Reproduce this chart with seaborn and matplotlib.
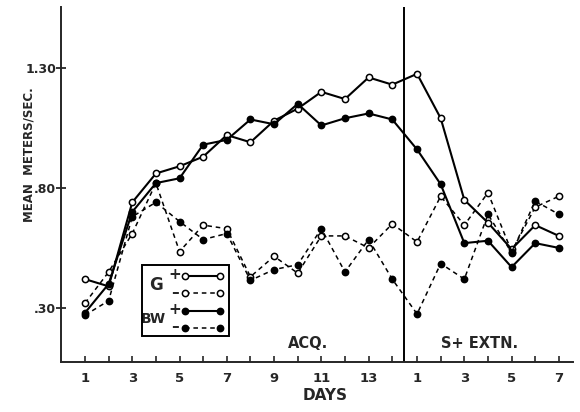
import numpy as np
import pandas as pd
import matplotlib
matplotlib.use("Agg")
import matplotlib.pyplot as plt
from matplotlib.patches import Rectangle
import seaborn as sns

# ==========================================================
# data
# ==========================================================

acq_days = list(range(1, 15))
ext_days = list(range(1, 8))

g_plus_acq = [0.42, 0.39, 0.74, 0.86, 0.89, 0.93, 1.02, 0.99, 1.08, 1.13, 1.20, 1.17, 1.26, 1.23]
g_plus_ext = [1.275, 1.09, 0.75, 0.655, 0.545, 0.645, 0.60]

g_minus_acq = [0.32, 0.45, 0.61, 0.82, 0.535, 0.645, 0.63, 0.43, 0.515, 0.445, 0.60, 0.60, 0.55, 0.65]
g_minus_ext = [0.575, 0.765, 0.645, 0.78, 0.535, 0.72, 0.765]

bw_plus_acq = [0.28, 0.40, 0.70, 0.82, 0.84, 0.98, 1.00, 1.085, 1.065, 1.15, 1.06, 1.09, 1.11, 1.085]
bw_plus_ext = [0.96, 0.815, 0.57, 0.58, 0.47, 0.57, 0.55]

bw_minus_acq = [0.27, 0.33, 0.68, 0.74, 0.66, 0.585, 0.61, 0.415, 0.46, 0.48, 0.63, 0.45, 0.585, 0.42]
bw_minus_ext = [0.275, 0.485, 0.42, 0.69, 0.53, 0.745, 0.69]

y_ticks = [0.30, 0.80, 1.30]
y_tick_labels = [".30", ".80", "1.30"]

# continuous x position: acquisition 1..14, extinction after the divider
ext_offset = 14.05
x_pos = acq_days + [ext_offset + d for d in ext_days]

series = {
    "G+": g_plus_acq + g_plus_ext,
    "G-": g_minus_acq + g_minus_ext,
    "BW+": bw_plus_acq + bw_plus_ext,
    "BW-": bw_minus_acq + bw_minus_ext,
}

styles = {
    "G+": dict(ls="-", mfc="white", lw=1.5),
    "G-": dict(ls=(0, (3, 2.5)), mfc="white", lw=1.1),
    "BW+": dict(ls="-", mfc="black", lw=1.5),
    "BW-": dict(ls=(0, (3, 2.5)), mfc="black", lw=1.1),
}

# ==========================================================
# plot
# ==========================================================

sns.set_style("ticks")
plt.rcParams["font.family"] = ["DejaVu Sans"]

fig = plt.figure(figsize=(5.8, 4.12), dpi=100)
ax = fig.add_axes([0.105, 0.1214, 0.883, 0.862])

for name, vals in series.items():
    df = pd.DataFrame({"x": x_pos, "y": vals})
    st = styles[name]
    sns.lineplot(
        data=df, x="x", y="y", ax=ax,
        color="black",
        linewidth=st["lw"],
        linestyle=st["ls"],
        marker="o",
        markersize=4.5,
        markerfacecolor=st["mfc"],
        markeredgecolor="black",
        markeredgewidth=1.1,
        zorder=3,
    )

ax.axvline(14.5, color="black", lw=1.4, zorder=2)

ax.set_xlim(-0.02, 21.65)
ax.set_ylim(0.075, 1.554)

ax.set_xticks(x_pos)
xlabels = [str(d) if d % 2 == 1 else "" for d in acq_days] + \
          [str(d) if d % 2 == 1 else "" for d in ext_days]
ax.set_xticklabels(xlabels, fontsize=9.5, fontweight="bold")
ax.tick_params(axis="x", direction="in", length=4, width=1.2, pad=7)

ax.set_yticks(y_ticks)
ax.set_yticklabels(y_tick_labels, fontsize=9, fontweight="bold")
ax.tick_params(axis="y", direction="inout", length=7, width=1.3, pad=0)

sns.despine(ax=ax)
for sp in ["left", "bottom"]:
    ax.spines[sp].set_linewidth(1.4)

ax.set_xlabel("DAYS", fontsize=11, fontweight="bold")
ax.xaxis.set_label_coords(0.515, -0.072)
ax.set_ylabel("")
fig.text(0.050, 0.624, "MEAN  METERS/SEC.", rotation=90, ha="center",
         va="center", fontsize=8.5, fontweight="bold")

ax.text(0.482, 0.053, "ACQ.", transform=ax.transAxes, ha="center",
        va="center", fontsize=10.5, fontweight="bold")
ax.text(0.818, 0.053, "S+ EXTN.", transform=ax.transAxes, ha="center",
        va="center", fontsize=10.5, fontweight="bold")

# ==========================================================
# hand-drawn legend box
# ==========================================================

ax.add_patch(Rectangle((0.158, 0.073), 0.170, 0.200, transform=ax.transAxes,
                       fill=False, lw=1.4, ec="black", zorder=4))

rows = [0.242, 0.194, 0.144, 0.096]
signs = ["+", "\u2013", "+", "\u2013"]
for name, ry, sg in zip(series.keys(), rows, signs):
    st = styles[name]
    ax.plot([0.242, 0.311], [ry, ry], transform=ax.transAxes,
            color="black", lw=st["lw"], ls=st["ls"], marker="o",
            markersize=4.5, mfc=st["mfc"], mec="black", mew=1.1,
            clip_on=False, zorder=5)
    ax.text(0.222, ry + 0.003, sg, transform=ax.transAxes, ha="center",
            va="center", fontsize=11, fontweight="bold")

ax.text(0.186, 0.217, "G", transform=ax.transAxes, ha="center",
        va="center", fontsize=12, fontweight="bold")
ax.text(0.180, 0.122, "BW", transform=ax.transAxes, ha="center",
        va="center", fontsize=10, fontweight="bold")

fig.savefig("out.png", dpi=100)
